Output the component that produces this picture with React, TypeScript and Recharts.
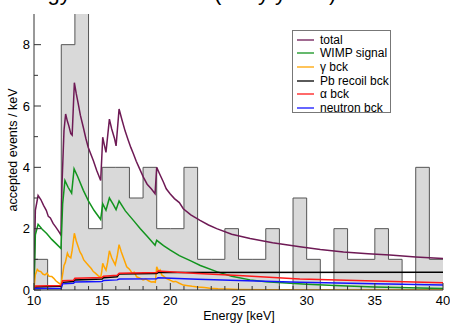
import React from 'react';
import { ComposedChart, Area, Line, XAxis, YAxis, Legend } from 'recharts';

const FONT = '"Liberation Sans", Arial, Helvetica, sans-serif';

// histogram of accepted events, 1 keV bins (lower edges)
const binLow = [10, 11, 12, 13, 14, 15, 16, 17, 18, 19, 20, 21, 22, 23, 24, 25, 26, 27, 28, 29, 30, 31, 32, 33, 34, 35, 36, 37, 38, 39];
const binCounts = [1, 0, 8, 9.6, 2, 4, 4, 3, 4, 2, 2, 4, 1, 1, 2, 1, 1, 2, 0, 3, 1, 0, 2, 1, 1, 2, 1, 0, 4, 1];
const binEnd = 40;

// model curves: [energy keV, events/keV]
const totalPts: [number, number][] = [
  [10.0, 0.1], [10.1, 2.6], [10.3, 3.08], [10.5, 2.95], [10.7, 2.76], [10.9, 2.6], [11.05, 2.4], [11.2, 2.35],
  [11.4, 2.17], [11.6, 2.05], [11.8, 1.92], [11.98, 1.79], [12.05, 3.4], [12.2, 5.2], [12.32, 5.74], [12.45, 5.5],
  [12.55, 5.36], [12.7, 5.1], [12.8, 5.05], [12.96, 6.76], [13.1, 6.4], [13.25, 6.06], [13.4, 5.7], [13.62, 5.3],
  [13.8, 4.95], [13.98, 4.65], [14.15, 4.45], [14.35, 4.22], [14.6, 3.9], [14.89, 3.57], [14.97, 4.3], [15.04, 4.98],
  [15.15, 4.75], [15.28, 4.49], [15.53, 5.57], [15.7, 5.25], [15.9, 4.95], [16.02, 4.7], [16.24, 5.9], [16.45, 5.55],
  [16.68, 5.19], [16.9, 4.9], [17.1, 4.65], [17.29, 4.44], [17.5, 4.2], [17.75, 3.95], [18.02, 3.68], [18.3, 3.45],
  [18.6, 3.3], [18.88, 3.14], [19.0, 4.0], [19.2, 3.8], [19.49, 3.52], [19.7, 3.3], [19.98, 3.14], [20.3, 2.98],
  [20.66, 2.85], [20.95, 2.65], [21.5, 2.45], [22.18, 2.27], [22.8, 2.12], [23.4, 2.0], [24.5, 1.82], [25.85, 1.68],
  [27.5, 1.54], [29.5, 1.41], [31, 1.32], [32.7, 1.24], [34.5, 1.18], [36.1, 1.14], [38, 1.08], [40, 1.03],
];
const wimpPts: [number, number][] = [
  [10, 0.05], [10.1, 1.8], [10.3, 2.14], [10.6, 1.98], [10.93, 1.84], [11.3, 1.65], [11.6, 1.52], [11.98, 1.35],
  [12.1, 2.8], [12.27, 3.57], [12.5, 3.35], [12.76, 3.16], [12.94, 3.95], [13.2, 3.7], [13.62, 3.25], [14.0, 2.9],
  [14.4, 2.6], [14.89, 2.3], [15.04, 2.81], [15.28, 2.6], [15.53, 3.0], [15.8, 2.8], [16.02, 2.62], [16.24, 2.9],
  [16.7, 2.58], [17.29, 2.27], [17.8, 2.0], [18.3, 1.75], [18.88, 1.46], [19.0, 1.62], [19.5, 1.45], [20.0, 1.3],
  [20.66, 1.12], [21.5, 0.95], [22.2, 0.8], [23.4, 0.6], [24.5, 0.45], [25.85, 0.33], [27, 0.27], [28.5, 0.23],
  [30, 0.19], [32.5, 0.14], [35, 0.1], [37.5, 0.07], [40, 0.05],
];
const gammaPts: [number, number][] = [
  [10, 0.05], [10.1, 0.5], [10.24, 0.67], [10.35, 0.62], [10.5, 0.6], [10.65, 0.52], [10.8, 0.49], [10.95, 0.55],
  [11.1, 0.45], [11.3, 0.44], [11.45, 0.38], [11.6, 0.3], [11.75, 0.25], [11.9, 0.2], [11.98, 0.16], [12.08, 0.45],
  [12.2, 0.8], [12.3, 0.9], [12.45, 1.2], [12.55, 1.1], [12.7, 1.05], [12.8, 1.3], [12.96, 1.85], [13.1, 1.6],
  [13.25, 1.4], [13.37, 1.24], [13.5, 1.15], [13.65, 0.98], [13.86, 0.87], [14.0, 0.8], [14.2, 0.7], [14.35, 0.6],
  [14.5, 0.55], [14.7, 0.47], [14.89, 0.41], [14.97, 0.6], [15.04, 0.87], [15.15, 0.75], [15.28, 0.65], [15.4, 0.9],
  [15.53, 1.28], [15.7, 1.05], [15.85, 0.92], [15.96, 0.82], [16.1, 1.1], [16.24, 1.48], [16.4, 1.25], [16.6, 1.0],
  [16.8, 0.76], [17.0, 0.68], [17.2, 0.55], [17.35, 0.58], [17.53, 0.43], [17.8, 0.38], [18.0, 0.33], [18.2, 0.36],
  [18.4, 0.3], [18.6, 0.26], [18.75, 0.27], [18.9, 0.25], [19.0, 0.76], [19.15, 0.6], [19.25, 0.65], [19.37, 0.49],
  [19.5, 0.45], [19.7, 0.38], [19.85, 0.35], [19.98, 0.32], [20.2, 0.27], [20.4, 0.28], [20.66, 0.22], [20.95, 0.16],
  [21.3, 0.14], [21.6, 0.12], [22.0, 0.1], [22.5, 0.08], [22.9, 0.06], [23.5, 0.04], [24.2, 0.03], [25, 0.02],
  [27, 0.01], [30, 0.0], [40, 0.0],
];
const pbPts: [number, number][] = [
  [10, 0.02], [10.1, 0.1], [12, 0.12], [12.1, 0.25], [12.9, 0.28], [13, 0.33], [15, 0.36], [15.1, 0.4],
  [16.1, 0.43], [16.25, 0.52], [19, 0.54], [19.1, 0.57], [40, 0.58],
];
const alphaPts: [number, number][] = [
  [10, 0.02], [10.1, 0.13], [12, 0.15], [12.1, 0.3], [12.9, 0.32], [13, 0.38], [15, 0.41], [15.1, 0.45],
  [16.1, 0.48], [16.25, 0.55], [19, 0.57], [19.1, 0.62], [22, 0.54], [25, 0.47], [29.5, 0.36], [35, 0.29], [40, 0.24],
];
const neutronPts: [number, number][] = [
  [10, 0.0], [10.1, 0.05], [12, 0.06], [12.1, 0.2], [12.9, 0.22], [13, 0.26], [15, 0.28], [15.1, 0.31],
  [16.1, 0.33], [16.25, 0.36], [19, 0.37], [19.1, 0.4], [22, 0.35], [25, 0.31], [29.5, 0.25], [35, 0.2], [40, 0.16],
];

const xTicks = [10, 11, 12, 13, 14, 15, 16, 17, 18, 19, 20, 21, 22, 23, 24, 25, 26, 27, 28, 29, 30, 31, 32, 33, 34, 35, 36, 37, 38, 39, 40];
const xMajor = [10, 15, 20, 25, 30, 35, 40];
const yTicks = [0, 1, 2, 3, 4, 5, 6, 7, 8];
const yMajor = [0, 2, 4, 6, 8];

const series = [
  { name: 'total', pts: totalPts, color: '#6e1a55' },
  { name: 'WIMP signal', pts: wimpPts, color: '#12941e' },
  { name: 'γ bck', pts: gammaPts, color: '#ffa500' },
  { name: 'Pb recoil bck', pts: pbPts, color: '#000000' },
  { name: 'α bck', pts: alphaPts, color: '#ff1a1a' },
  { name: 'neutron bck', pts: neutronPts, color: '#1414ff' },
];

const histData = [
  ...binLow.map((e, i) => ({ e, v: binCounts[i] })),
  { e: binEnd, v: binCounts[binCounts.length - 1] },
];

const toRows = (pts: [number, number][]) => pts.map(([e, v]) => ({ e, v }));

const AX = '#333';

const BottomTick = (p: any) => {
  const v = p.payload.value;
  const major = xMajor.includes(v);
  return (
    <g>
      <line x1={p.x} x2={p.x} y1={p.y} y2={p.y - (major ? 7 : 4)} stroke={AX} />
      {major && (
        <text x={p.x} y={p.y + 15} textAnchor="middle" fontSize={13} fontFamily={FONT} fill="#000">{v}</text>
      )}
    </g>
  );
};
const TopTick = (p: any) => {
  const major = xMajor.includes(p.payload.value);
  return <line x1={p.x} x2={p.x} y1={p.y} y2={p.y + (major ? 7 : 4)} stroke={AX} />;
};
const LeftTick = (p: any) => {
  const v = p.payload.value;
  const major = yMajor.includes(v);
  return (
    <g>
      <line x1={p.x} x2={p.x + (major ? 7 : 4)} y1={p.y} y2={p.y} stroke={AX} />
      {major && (
        <text x={p.x - 4} y={p.y + 4.5} textAnchor="end" fontSize={13} fontFamily={FONT} fill="#000">{v}</text>
      )}
    </g>
  );
};
const RightTick = (p: any) => {
  const major = yMajor.includes(p.payload.value);
  return <line x1={p.x} x2={p.x - (major ? 7 : 4)} y1={p.y} y2={p.y} stroke={AX} />;
};

const LegendBox = () => (
  <div style={{ border: '1px solid #777', background: '#fff', width: 99, height: 83, boxSizing: 'border-box', padding: '2px 0 0 3px', fontFamily: FONT, fontSize: 12 }}>
    {series.map((s) => (
      <div key={s.name} style={{ display: 'flex', alignItems: 'center', height: 13.6, whiteSpace: 'nowrap' }}>
        <svg width={24} height={10}><line x1={1} x2={18} y1={5} y2={5} stroke={s.color} strokeWidth={1.3} /></svg>
        <span style={{ color: '#000' }}>{s.name}</span>
      </div>
    ))}
  </div>
);

export default function App() {
  return (
    <div style={{ position: 'fixed', left: 0, top: 0, width: 450, height: 324, background: '#fff', overflow: 'hidden' }}>
      <ComposedChart width={450} height={324} margin={{ top: 14, right: 7, bottom: 0, left: 0 }}>
        <XAxis dataKey="e" type="number" domain={[10, 40]} ticks={xTicks} interval={0} height={34}
          axisLine={{ stroke: AX }} tickLine={false} tickSize={0} tickMargin={0} tick={BottomTick} allowDataOverflow />
        <XAxis xAxisId="top" orientation="top" type="number" domain={[10, 40]} ticks={xTicks} interval={0} height={0}
          axisLine={{ stroke: AX }} tickLine={false} tickSize={0} tickMargin={0} tick={TopTick} />
        <YAxis type="number" domain={[0, 9]} ticks={yTicks} interval={0} width={34}
          axisLine={{ stroke: AX }} tickLine={false} tickSize={0} tickMargin={0} tick={LeftTick} allowDataOverflow />
        <YAxis yAxisId="right" orientation="right" type="number" domain={[0, 9]} ticks={yTicks} interval={0} width={0}
          axisLine={{ stroke: AX }} tickLine={false} tickSize={0} tickMargin={0} tick={RightTick} />
        <Area data={histData} dataKey="v" type="stepAfter" fill="#d9d9d9" fillOpacity={1} stroke="#555" strokeWidth={1}
          isAnimationActive={false} dot={false} activeDot={false} />
        {series.map((s) => (
          <Line key={s.name} data={toRows(s.pts)} dataKey="v" name={s.name} type="linear" stroke={s.color}
            strokeWidth={1.5} dot={false} activeDot={false} isAnimationActive={false} />
        ))}
        <Legend layout="vertical" align="center" verticalAlign="middle" content={LegendBox}
          wrapperStyle={{ position: 'absolute', left: 292, top: 30, width: 99, height: 83 }} />
      </ComposedChart>
      <svg width={450} height={324} style={{ position: 'absolute', left: 0, top: 0, pointerEvents: 'none' }}>
        <text x={1} y={0} fontSize={22} fontFamily={FONT}>Energy distribution</text>
        <text x={214} y={0} fontSize={22} fontFamily={FONT}>(early years)</text>
        <text x={239} y={320} textAnchor="middle" fontSize={12.5} fontFamily={FONT}>Energy [keV]</text>
        <text transform="translate(17,150) rotate(-90)" textAnchor="middle" fontSize={12.5} fontFamily={FONT}>accepted events / keV</text>
      </svg>
    </div>
  );
}
